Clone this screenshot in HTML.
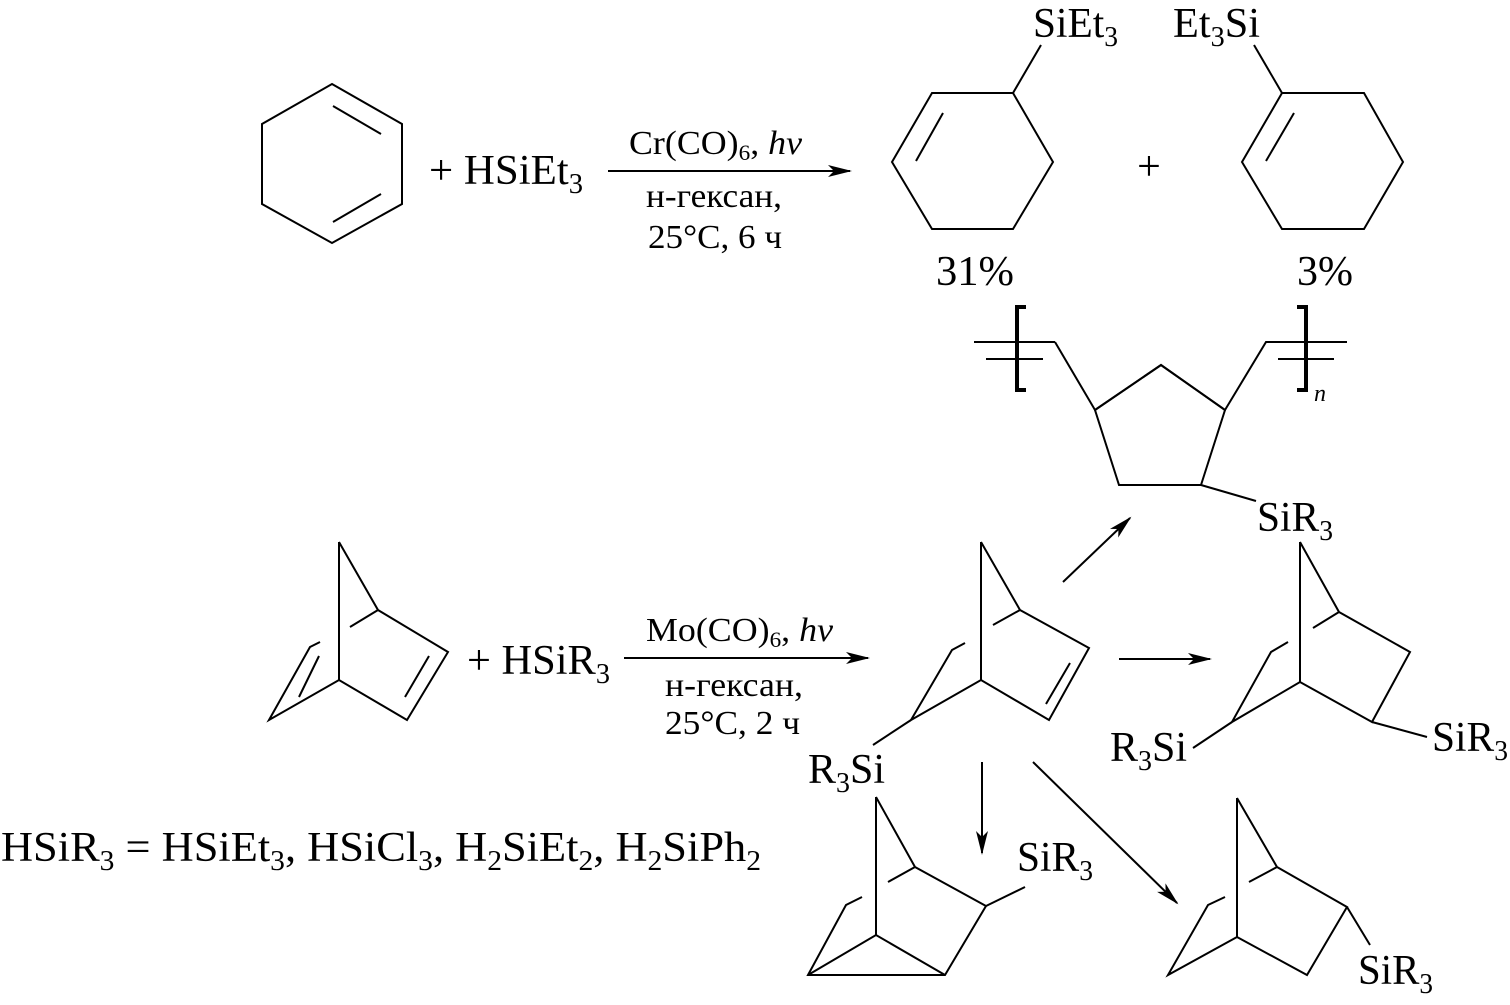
<!DOCTYPE html>
<html><head><meta charset="utf-8"><style>
html,body{margin:0;padding:0;background:#fff;}
svg{display:block;}
text{font-family:"Liberation Serif","Times New Roman",Times,serif;fill:#000;}
</style></head><body>
<svg width="1510" height="1005" viewBox="0 0 1510 1005" xmlns="http://www.w3.org/2000/svg">
<defs>
<marker id="ah" markerWidth="24" markerHeight="12" refX="22" refY="6" orient="auto" markerUnits="userSpaceOnUse">
<path d="M0,0 L24,6 L0,12 L6,6 Z" fill="#000"/>
</marker>
</defs>
<g stroke="#000" stroke-width="2" fill="none" stroke-linejoin="miter">
<polygon points="332,84 402,124 402,204 332,243 262,204 262,124"/>
<line x1="333" y1="106" x2="381" y2="134"/>
<line x1="333" y1="222" x2="381" y2="194"/>
<line x1="608" y1="171" x2="850" y2="171" marker-end="url(#ah)"/>
<polygon points="932,93 1013,93 1053,162 1013,229 932,229 892,162"/>
<line x1="943" y1="113" x2="916" y2="161"/>
<line x1="1013" y1="93" x2="1041" y2="45"/>
<polygon points="1282,93 1364,93 1403,162 1364,229 1282,229 1242,162"/>
<line x1="1294" y1="113" x2="1266" y2="161"/>
<line x1="1282" y1="93" x2="1254" y2="45"/>
<path d="M1026,307 L1017,307 L1017,390 L1026,390" stroke-width="4"/>
<path d="M1297,307 L1306,307 L1306,390 L1297,390" stroke-width="4"/>
<line x1="974" y1="342" x2="1055" y2="342"/>
<line x1="986" y1="359" x2="1043" y2="359"/>
<polyline points="1055,342 1095,410 1161,365 1225,410 1266,342 1347,342"/>
<line x1="1278" y1="359" x2="1334" y2="359"/>
<polygon points="1095,410 1161,365 1225,410 1201,485 1119,485"/>
<line x1="1201" y1="485" x2="1256" y2="501"/>
<line x1="339" y1="542" x2="339" y2="680"/>
<polyline points="339,542 378,610 448,652 407,720 339,680 269,720 310,647 320,642"/>
<line x1="350" y1="627" x2="378" y2="610"/>
<line x1="429" y1="656" x2="405" y2="697"/>
<line x1="319" y1="656" x2="299" y2="697"/>
<line x1="624" y1="658" x2="868" y2="658" marker-end="url(#ah)"/>
<line x1="981" y1="542" x2="981" y2="680"/>
<polyline points="981,542 1020,610 1089,648 1049,720 981,680 911,720 952,650 965,643"/>
<line x1="993" y1="625" x2="1020" y2="610"/>
<line x1="1070" y1="663" x2="1046" y2="704"/>
<line x1="911" y1="720" x2="873" y2="745"/>
<line x1="1063" y1="582" x2="1130" y2="518" marker-end="url(#ah)"/>
<line x1="1119" y1="659" x2="1210" y2="659" marker-end="url(#ah)"/>
<line x1="982" y1="762" x2="982" y2="853" marker-end="url(#ah)"/>
<line x1="1033" y1="762" x2="1177" y2="903" marker-end="url(#ah)"/>
<line x1="1300" y1="542" x2="1300" y2="682"/>
<polyline points="1300,542 1339,612 1410,652 1372,722 1300,682 1232,722 1271,652 1288,642"/>
<line x1="1313" y1="628" x2="1339" y2="612"/>
<line x1="1232" y1="722" x2="1193" y2="748"/>
<line x1="1372" y1="722" x2="1427" y2="737"/>
<line x1="876" y1="797" x2="876" y2="935"/>
<polyline points="876,797 915,867 986,906 945,975 808,975 846,905 862,897"/>
<line x1="888" y1="882" x2="915" y2="867"/>
<polyline points="808,975 876,935 945,975"/>
<line x1="986" y1="906" x2="1025" y2="887"/>
<line x1="1237" y1="798" x2="1237" y2="937"/>
<polyline points="1237,798 1277,867 1347,907 1307,975 1237,937 1168,975 1208,905 1225,897"/>
<line x1="1249" y1="882" x2="1277" y2="867"/>
<line x1="1347" y1="907" x2="1370" y2="945"/>
</g>
<g font-size="42">
<text x="429" y="184" textLength="154" lengthAdjust="spacingAndGlyphs">+ HSiEt<tspan font-size="28" dy="9">3</tspan></text>
<text x="1033" y="37" textLength="85" lengthAdjust="spacingAndGlyphs">SiEt<tspan font-size="28" dy="9">3</tspan></text>
<text x="1173" y="37" textLength="87" lengthAdjust="spacingAndGlyphs">Et<tspan font-size="28" dy="9">3</tspan><tspan dy="-9">Si</tspan></text>
<text x="1149" y="180" text-anchor="middle">+</text>
<text x="936" y="285" textLength="78" lengthAdjust="spacingAndGlyphs">31%</text>
<text x="1297" y="285" textLength="56" lengthAdjust="spacingAndGlyphs">3%</text>
<text x="1257" y="531" textLength="76" lengthAdjust="spacingAndGlyphs">SiR<tspan font-size="28" dy="9">3</tspan></text>
<text x="467" y="674" textLength="143" lengthAdjust="spacingAndGlyphs">+ HSiR<tspan font-size="28" dy="9">3</tspan></text>
<text x="808" y="783" textLength="77" lengthAdjust="spacingAndGlyphs">R<tspan font-size="28" dy="9">3</tspan><tspan dy="-9">Si</tspan></text>
<text x="1110" y="761" textLength="77" lengthAdjust="spacingAndGlyphs">R<tspan font-size="28" dy="9">3</tspan><tspan dy="-9">Si</tspan></text>
<text x="1432" y="751" textLength="76" lengthAdjust="spacingAndGlyphs">SiR<tspan font-size="28" dy="9">3</tspan></text>
<text x="1017" y="871" textLength="76" lengthAdjust="spacingAndGlyphs">SiR<tspan font-size="28" dy="9">3</tspan></text>
<text x="1358" y="984" textLength="75" lengthAdjust="spacingAndGlyphs">SiR<tspan font-size="28" dy="9">3</tspan></text>
<text x="1" y="861" textLength="760" lengthAdjust="spacingAndGlyphs">HSiR<tspan font-size="28" dy="9">3</tspan><tspan dy="-9"> = HSiEt</tspan><tspan font-size="28" dy="9">3</tspan><tspan dy="-9">, HSiCl</tspan><tspan font-size="28" dy="9">3</tspan><tspan dy="-9">, H</tspan><tspan font-size="28" dy="9">2</tspan><tspan dy="-9">SiEt</tspan><tspan font-size="28" dy="9">2</tspan><tspan dy="-9">, H</tspan><tspan font-size="28" dy="9">2</tspan><tspan dy="-9">SiPh</tspan><tspan font-size="28" dy="9">2</tspan></text>
</g>
<g font-size="34">
<text x="629" y="154" textLength="173" lengthAdjust="spacingAndGlyphs">Cr(CO)<tspan font-size="22" dy="6">6</tspan><tspan dy="-6">, </tspan><tspan font-style="italic">hν</tspan></text>
<text x="646" y="207" textLength="136" lengthAdjust="spacingAndGlyphs">н-гексан,</text>
<text x="648" y="248" textLength="134" lengthAdjust="spacingAndGlyphs">25°C, 6 ч</text>
<text x="646" y="641" textLength="187" lengthAdjust="spacingAndGlyphs">Mo(CO)<tspan font-size="22" dy="6">6</tspan><tspan dy="-6">, </tspan><tspan font-style="italic">hν</tspan></text>
<text x="665" y="696" textLength="138" lengthAdjust="spacingAndGlyphs">н-гексан,</text>
<text x="665" y="734" textLength="135" lengthAdjust="spacingAndGlyphs">25°C, 2 ч</text>
<text x="1314" y="401" font-size="24" font-style="italic">n</text>
</g>
</svg>
</body></html>
